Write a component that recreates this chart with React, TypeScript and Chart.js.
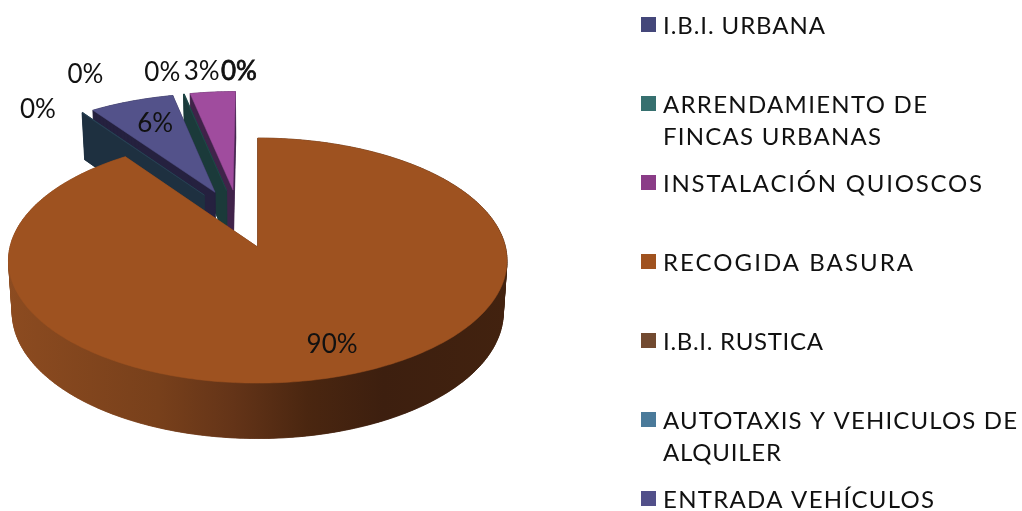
import React, { useEffect, useRef } from "react";
import { Chart, registerables } from "chart.js";

Chart.register(...registerables);

const categories = [
  "I.B.I. URBANA",
  "ARRENDAMIENTO DE FINCAS URBANAS",
  "INSTALACIÓN QUIOSCOS",
  "RECOGIDA BASURA",
  "I.B.I. RUSTICA",
  "AUTOTAXIS Y VEHICULOS DE ALQUILER",
  "ENTRADA VEHÍCULOS",
];
const values = [0.01, 0.06, 3.4, 90.08, 0.01, 0.06, 6.35];
const legendLines = [
  ["I.B.I. URBANA"],
  ["ARRENDAMIENTO DE", "FINCAS URBANAS"],
  ["INSTALACIÓN QUIOSCOS"],
  ["RECOGIDA BASURA"],
  ["I.B.I. RUSTICA"],
  ["AUTOTAXIS Y VEHICULOS DE", "ALQUILER"],
  ["ENTRADA VEHÍCULOS"],
];

// styles and layout
const legendEnds = [[825], [927, 881], [982], [913], [823], [1017, 781], [934]];
const legendColors = ["#44477a", "#36706f", "#8a3c87", "#a0521f", "#724a30", "#4a7a9a", "#52508a"];
const faceColors = ["#4a4c80", "#1f4a4a", "#a04c9e", "#9e5220", "#724a30", "#2a4458", "#53528a"];
const wallColors = ["#25243e", "#1b3a3a", "#40234a", "#6a3618", "#3a2518", "#1e3040", "#25213f"];
const labelFactor = [1, 1, 1, 0.78, 1, 1, 0.65];
const labelNudge = [
  [-21, -21],
  [55, -22],
  [-11, -20],
  [10, 0],
  [-44, -3],
  [3, -38],
  [-4, -8],
];
const heavyLabels = [false, true, false, false, false, false, false];
const hiddenBelow = 0.02;
const bigWallStops: [number, string][] = [
  [0, "#8c4b20"],
  [0.3, "#78401b"],
  [0.45, "#643418"],
  [0.6, "#4a2610"],
  [0.75, "#3d1f0f"],
  [1, "#42220f"],
];

const FONT = "Lato, 'Open Sans', sans-serif";
const KX = 1.003;
const KY = 0.49;
const PERSP = 0.11;
const DEPTH = 0.21;
const BOTTOM_SCALE = 1.015;
const EXPLODE = 0.255;
const PIVOT = [-0.079, 0.242];

type V = [number, number];

function project(el: any, gx: number, gy: number, low: boolean): V {
  const r = el.outerRadius;
  const w = (1 + PERSP * gy) * (low ? BOTTOM_SCALE : 1);
  const x = el.x + (r * KX * gx) / w;
  const y = el.y + (r * (-KY * gy + (low ? DEPTH : 0))) / w;
  return [x, y];
}

function slicePoints(el: any) {
  const a0 = el.startAngle + Math.PI / 2;
  const a1 = el.endAngle + Math.PI / 2;
  const mid = (a0 + a1) / 2;
  const ax = PIVOT[0] + EXPLODE * Math.sin(mid);
  const ay = PIVOT[1] + EXPLODE * Math.cos(mid);
  const n = Math.max(2, Math.ceil(((a1 - a0) * 180) / Math.PI));
  const rim: V[] = [];
  for (let i = 0; i <= n; i++) {
    const t = a0 + ((a1 - a0) * i) / n;
    rim.push([ax + Math.sin(t), ay + Math.cos(t)]);
  }
  return { ax, ay, rim, mid };
}

function fillPoly(ctx: CanvasRenderingContext2D, pts: V[], fill: any) {
  ctx.beginPath();
  pts.forEach((p, i) => (i ? ctx.lineTo(p[0], p[1]) : ctx.moveTo(p[0], p[1])));
  ctx.closePath();
  ctx.fillStyle = fill;
  ctx.strokeStyle = fill;
  ctx.lineWidth = 0.5;
  ctx.fill();
  ctx.stroke();
}

const pie3d = {
  id: "pie3d",
  beforeDatasetDraw(chart: any) {
    const ctx: CanvasRenderingContext2D = chart.ctx;
    const arcs: any[] = chart.getDatasetMeta(0).data;
    const norm = (el: any) => {
      const d = ((el.startAngle + Math.PI / 2) * 180) / Math.PI;
      return (((d + 0.01) % 360) + 360) % 360;
    };
    const order = arcs.map((_, i) => i).sort((a, b) => norm(arcs[b]) - norm(arcs[a]));
    ctx.save();
    order.forEach((i) => {
      if (values[i] < hiddenBelow) return;
      const el = arcs[i];
      const { ax, ay, rim } = slicePoints(el);
      const ring: V[] = [[ax, ay], ...rim];
      const top = ring.map((p) => project(el, p[0], p[1], false));
      const low = ring.map((p) => project(el, p[0], p[1], true));
      let wall: any = wallColors[i];
      if (values[i] > 50) {
        const g = ctx.createLinearGradient(8, 0, 508, 0);
        bigWallStops.forEach(([o, c]) => g.addColorStop(o, c));
        wall = g;
      }
      fillPoly(ctx, low, wall);
      for (let k = 0; k < ring.length; k++) {
        const m = (k + 1) % ring.length;
        fillPoly(ctx, [top[k], top[m], low[m], low[k]], wall);
      }
      fillPoly(ctx, top, faceColors[i]);
    });
    ctx.restore();
    return false;
  },
  afterDatasetsDraw(chart: any) {
    const ctx: CanvasRenderingContext2D = chart.ctx;
    const arcs: any[] = chart.getDatasetMeta(0).data;
    const total = values.reduce((a, b) => a + b, 0);
    ctx.save();
    ctx.font = `26px ${FONT}`;
    ctx.textAlign = "center";
    ctx.textBaseline = "middle";
    ctx.fillStyle = "#111";
    ctx.strokeStyle = "#111";
    arcs.forEach((el, i) => {
      const { ax, ay, mid } = slicePoints(el);
      const f = labelFactor[i];
      const [x, y] = project(el, ax + f * Math.sin(mid), ay + f * Math.cos(mid), false);
      const text = `${Math.round((values[i] / total) * 100)}%`;
      const tx = x + labelNudge[i][0];
      const ty = y + labelNudge[i][1];
      ctx.fillText(text, tx, ty);
      if (heavyLabels[i]) {
        ctx.lineWidth = 0.8;
        ctx.strokeText(text, tx, ty);
      }
    });
    // legend
    ctx.font = `24px ${FONT}`;
    ctx.textAlign = "left";
    categories.forEach((_, i) => {
      const top = 17 + i * 79;
      ctx.fillStyle = legendColors[i];
      ctx.fillRect(641, top, 15, 15);
      ctx.fillStyle = "#111";
      legendLines[i].forEach((line, l) => {
        (ctx as any).letterSpacing = "0px";
        const natural = ctx.measureText(line).width;
        const spacing = (legendEnds[i][l] - 663 - natural) / Math.max(1, line.length - 1);
        (ctx as any).letterSpacing = `${spacing}px`;
        ctx.fillText(line, 663, top + 9 + l * 32);
      });
    });
    ctx.restore();
  },
};

export default function App() {
  const ref = useRef<HTMLCanvasElement>(null);
  useEffect(() => {
    const before = values.slice(0, 3).reduce((a, b) => a + b, 0);
    const total = values.reduce((a, b) => a + b, 0);
    const chart = new Chart(ref.current!, {
      type: "pie",
      data: {
        labels: categories,
        datasets: [{ data: values, backgroundColor: faceColors, borderWidth: 0 }],
      },
      options: {
        animation: false,
        responsive: false,
        rotation: (-before / total) * 360,
        layout: { padding: { left: 0, top: 0, right: 506, bottom: 17 } },
        plugins: { legend: { display: false }, tooltip: { enabled: false } },
      } as any,
      plugins: [pie3d as any],
    });
    return () => chart.destroy();
  }, []);
  return (
    <div style={{ position: "fixed", left: 0, top: 0, width: 1022, height: 511, background: "#fff" }}>
      <canvas ref={ref} width={1022} height={511} style={{ display: "block" }} />
    </div>
  );
}
